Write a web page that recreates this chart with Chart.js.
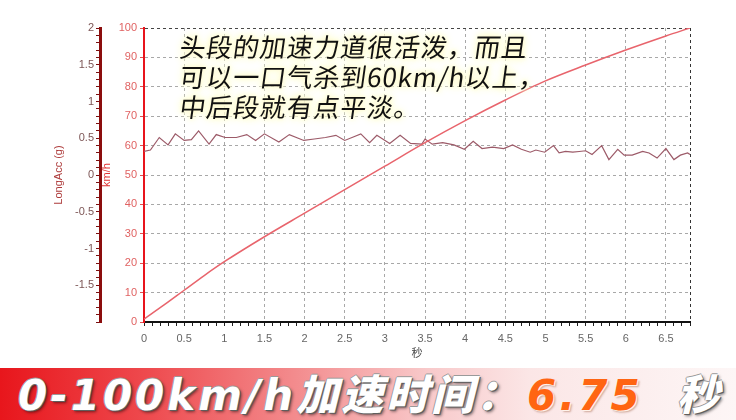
<!DOCTYPE html>
<html>
<head>
<meta charset="utf-8">
<script src="https://cdn.jsdelivr.net/npm/chart.js"></script>
<style>
html, body { margin: 0; padding: 0; background: #fff; }
#wrap { position: relative; width: 736px; height: 420px; overflow: hidden; }
#chart { position: absolute; left: 0; top: 0; }
#note {
	position: absolute; left: 180px; top: 31px;
	font-family: "Noto Sans CJK SC", sans-serif; font-size: 26px; line-height: 30px;
	letter-spacing: 0.8px; color: #111; white-space: nowrap;
	text-shadow: 0 0 3px #fffbd2, 0 0 5px #fffbd2, 0 0 7px #fffbd2, 0 0 9px #fffbd2, 0 0 11px #fffbd2;
}
#note div { transform: skewX(-8deg); transform-origin: left center; }
#banner {
	position: absolute; left: 0; top: 368px; width: 736px; height: 52px;
	background: linear-gradient(to right, #e8161c 0%, #ee4a4e 20%, #f38b8d 40%, #f8c9ca 58%, #fbe6e6 72%, #fdf6f6 100%);
}
#banner span {
	position: absolute; top: 2px; line-height: 52px; white-space: nowrap;
	font-family: "DejaVu Sans", "Noto Sans CJK SC", sans-serif; font-weight: 900; font-style: italic;
	font-size: 42px; letter-spacing: 3px;
}
.w { color: #fff; text-shadow: 1px 1px 0 #5e5e5e, -1px 0 0 #9a9a9a, 0 -1px 0 #9a9a9a, 2px 2px 3px rgba(0,0,0,0.5); }
.o { color: #ff6512; text-shadow: 1px 1px 0 #fff3ea, 2px 2px 2px rgba(120,40,0,0.35); }
</style>
</head>
<body>
<div id="wrap">
	<canvas id="chart" width="736" height="362"></canvas>
	<div id="note">
		<div>头段的加速力道很活泼，而且</div>
		<div>可以一口气杀到60km/h以上，</div>
		<div>中后段就有点平淡。</div>
	</div>
	<div id="banner">
		<span class="w" style="left:18px">0-100km/h加速时间：</span>
		<span class="o" style="left:527px">6.75</span>
		<span class="w" style="left:677px">秒</span>
	</div>
</div>
<script>
// speed curve (km/h) against time (s)
const speedTime = [0, 0.25, 0.5, 0.75, 1, 1.5, 2, 2.5, 3, 3.5, 4, 4.5, 5, 5.5, 6, 6.5, 6.8];
const speedKmh = [1, 5.8, 10.8, 15.8, 20.5, 29, 37, 45, 53, 61, 68.5, 75.5, 82, 87.4, 92.5, 97.3, 100];

// longitudinal acceleration (g) against time (s)
const accTime = [0, 0.08, 0.19, 0.30, 0.39, 0.50, 0.59, 0.68, 0.81, 0.90, 1.01, 1.15, 1.28, 1.39, 1.50,
	1.68, 1.81, 1.99, 2.12, 2.26, 2.39, 2.50, 2.70, 2.81, 2.90, 3.06, 3.19, 3.32, 3.46, 3.50,
	3.59, 3.72, 3.86, 3.99, 4.10, 4.21, 4.34, 4.48, 4.59, 4.70, 4.81, 4.88, 4.99, 5.10, 5.17,
	5.25, 5.34, 5.42, 5.50, 5.58, 5.70, 5.79, 5.90, 5.98, 6.08, 6.21, 6.29, 6.39, 6.50, 6.60,
	6.68, 6.77, 6.80];
const accG = [0.32, 0.34, 0.51, 0.41, 0.56, 0.47, 0.48, 0.60, 0.42, 0.55, 0.51, 0.51, 0.55, 0.47, 0.56,
	0.45, 0.55, 0.47, 0.49, 0.51, 0.54, 0.47, 0.56, 0.44, 0.54, 0.43, 0.54, 0.43, 0.42, 0.49,
	0.42, 0.44, 0.41, 0.35, 0.46, 0.36, 0.38, 0.36, 0.41, 0.35, 0.31, 0.34, 0.31, 0.40, 0.30,
	0.32, 0.31, 0.32, 0.33, 0.28, 0.40, 0.21, 0.35, 0.27, 0.27, 0.32, 0.30, 0.23, 0.36, 0.21,
	0.27, 0.30, 0.28];

const xMax = 6.8;
const tickFont = { family: '"Liberation Sans", "Noto Sans CJK SC", sans-serif', size: 11 };

function onStep(v, s) {
	return Math.abs(v / s - Math.round(v / s)) < 1e-6;
}
function fmt(v) {
	return String(Math.round(v * 10) / 10);
}

var ctx = document.getElementById('chart').getContext('2d');
var chart = new Chart(ctx, {
	type: 'line',
	data: {
		datasets: [{
			label: 'km/h',
			data: speedTime.map((t, i) => ({ x: t, y: speedKmh[i] })),
			yAxisID: 'y',
			borderColor: '#e8646c',
			borderWidth: 1.5,
			pointRadius: 0,
			cubicInterpolationMode: 'monotone'
		}, {
			label: 'LongAcc',
			data: accTime.map((t, i) => ({ x: t, y: accG[i] })),
			yAxisID: 'yg',
			borderColor: '#9c5a68',
			borderWidth: 1.2,
			pointRadius: 0,
			tension: 0
		}]
	},
	options: {
		responsive: false,
		animation: false,
		devicePixelRatio: 1,
		layout: { padding: { left: 52, right: 46, top: 28, bottom: 0 } },
		plugins: { legend: { display: false }, tooltip: { enabled: false } },
		scales: {
			x: {
				type: 'linear', min: 0, max: xMax,
				title: { display: true, text: '秒', color: '#444', font: tickFont, padding: { top: 0, bottom: 1 } },
				ticks: {
					stepSize: 0.1, maxTicksLimit: 1000, autoSkip: false, maxRotation: 0,
					color: '#666', font: tickFont, padding: 6,
					callback: v => onStep(v, 0.5) ? fmt(v) : ''
				},
				grid: {
					color: c => (c.tick && c.tick.value >= xMax - 1e-6) ? '#333' : (c.tick && onStep(c.tick.value, 0.5) ? '#a8a8a8' : 'rgba(0,0,0,0)'),
					tickColor: '#222', tickLength: 4
				},
				border: { color: '#111', width: 2, dash: [3, 3] },
				afterFit: s => { s.height = 40; }
			},
			y: {
				position: 'left', weight: 0, min: 0, max: 100,
				title: { display: true, text: 'km/h', color: '#e03434', font: tickFont, padding: 0 },
				ticks: { stepSize: 10, color: '#e06262', font: tickFont, padding: 3 },
				grid: {
					color: c => (c.tick && c.tick.value === 100) ? '#444' : '#a8a8a8',
					tickColor: '#e05050', tickLength: 4
				},
				border: { color: '#e8141c', width: 2, dash: [3, 3] },
				afterFit: s => { s.width = 44; }
			},
			yg: {
				position: 'left', weight: 1, min: -2, max: 2,
				title: { display: true, text: 'LongAcc (g)', color: '#ad3a3a', font: tickFont, padding: 0 },
				ticks: {
					stepSize: 0.1, maxTicksLimit: 1000, autoSkip: false, color: '#7d5656', font: tickFont, padding: 2,
					callback: v => (onStep(v, 0.5) && v > -1.99) ? fmt(v) : ''
				},
				grid: { drawOnChartArea: false, tickColor: '#7a1010', tickLength: 4 },
				border: { color: '#8b0d0d', width: 3 },
				afterFit: s => { s.width = 48; }
			}
		}
	}
});
</script>
</body>
</html>
